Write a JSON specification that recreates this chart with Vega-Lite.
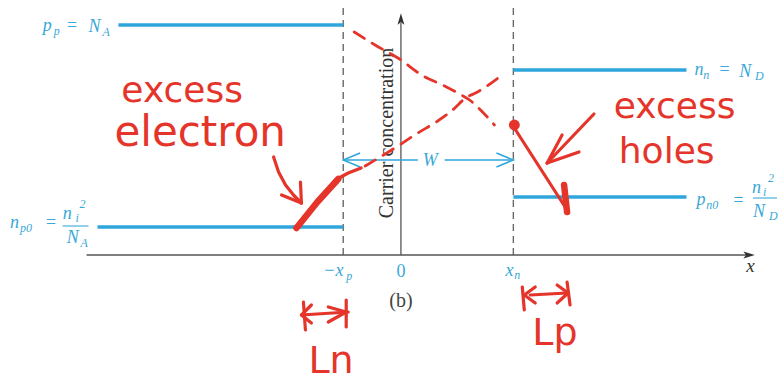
{
  "$schema": "https://vega.github.io/schema/vega-lite/v6.json",
  "width": 778,
  "height": 385,
  "padding": 0,
  "autosize": {"type": "fit", "contains": "padding"},
  "config": {"view": {"stroke": null}},
  "datasets": {
    "axisLines": [
      {"x": -316, "y": 0, "x2": 347, "y2": 0},
      {"x": 0, "y": 0, "x2": 0, "y2": 232}
    ],
    "axisEnds": [
      {"axis": "x", "x": 350, "y": 0},
      {"axis": "y", "x": 0, "y": 236}
    ],
    "boundaries": [
      {"x": -58, "y": 0, "x2": -58, "y2": 250},
      {"x": 113, "y": 0, "x2": 113, "y2": 250}
    ],
    "levels": [
      {"carrier": "p_p", "x": -284, "y": 230, "x2": -58, "y2": 230},
      {"carrier": "n_p0", "x": -305, "y": 28, "x2": -58, "y2": 28},
      {"carrier": "n_n", "x": 113, "y": 185, "x2": 287, "y2": 185},
      {"carrier": "p_n0", "x": 113, "y": 58, "x2": 287, "y2": 58}
    ],
    "widthLine": [
      {"x": -58, "y": 95, "x2": 17, "y2": 95},
      {"x": 44, "y": 95, "x2": 113, "y2": 95}
    ],
    "fractionBars": [
      {"x": -340, "y": 29, "x2": -314, "y2": 29},
      {"x": 354, "y": 57, "x2": 378, "y2": 57}
    ],
    "chevrons": [
      {"id": "left", "i": 0, "x": -41, "y": 102},
      {"id": "left", "i": 1, "x": -58, "y": 95},
      {"id": "left", "i": 2, "x": -41, "y": 88},
      {"id": "right", "i": 0, "x": 96, "y": 102},
      {"id": "right", "i": 1, "x": 113, "y": 95},
      {"id": "right", "i": 2, "x": 96, "y": 88}
    ],
    "labelMain": [
      {"t": "p", "x": -360, "y": 224},
      {"t": "=", "x": -337, "y": 224},
      {"t": "N", "x": -314, "y": 223},
      {"t": "n", "x": -393, "y": 27},
      {"t": "=", "x": -358, "y": 27},
      {"t": "n", "x": -340, "y": 36},
      {"t": "N", "x": -336, "y": 12},
      {"t": "n", "x": 295, "y": 180},
      {"t": "=", "x": 319, "y": 180},
      {"t": "N", "x": 340, "y": 178},
      {"t": "p", "x": 297, "y": 50},
      {"t": "=", "x": 333, "y": 49},
      {"t": "n", "x": 353, "y": 62},
      {"t": "N", "x": 354, "y": 38},
      {"t": "−x", "x": -78, "y": -21},
      {"t": "x", "x": 105, "y": -21},
      {"t": "W", "x": 22, "y": 89}
    ],
    "labelSub": [
      {"t": "p", "x": -349, "y": 220},
      {"t": "A", "x": -300, "y": 219},
      {"t": "p0", "x": -383, "y": 23},
      {"t": "i", "x": -327, "y": 33},
      {"t": "2", "x": -323, "y": 47},
      {"t": "A", "x": -322, "y": 8},
      {"t": "n", "x": 304, "y": 176},
      {"t": "D", "x": 356, "y": 175},
      {"t": "n0", "x": 307, "y": 46},
      {"t": "i", "x": 364, "y": 59},
      {"t": "2", "x": 369, "y": 73},
      {"t": "D", "x": 370, "y": 35},
      {"t": "p", "x": -55, "y": -25},
      {"t": "n", "x": 114, "y": -24}
    ],
    "origin": [{"t": "0", "x": 0, "y": -22}],
    "caption": [{"t": "(b)", "x": 0, "y": -52}],
    "xName": [{"t": "x", "x": 347, "y": -17}],
    "yName": [{"t": "Carrier concentration", "x": -14, "y": 122}],
    "noteStrokes": [
      {"id": "arrowL", "i": 0, "x": -128, "y": 98},
      {"id": "arrowL", "i": 1, "x": -123, "y": 83},
      {"id": "arrowL", "i": 2, "x": -116, "y": 70},
      {"id": "arrowL", "i": 3, "x": -108, "y": 60},
      {"id": "arrowL", "i": 4, "x": -100, "y": 52},
      {"id": "arrowLb1", "i": 0, "x": -120, "y": 60},
      {"id": "arrowLb1", "i": 1, "x": -100, "y": 52},
      {"id": "arrowLb2", "i": 0, "x": -101, "y": 73},
      {"id": "arrowLb2", "i": 1, "x": -100, "y": 52},
      {"id": "elecLead", "i": 0, "x": -66, "y": 75},
      {"id": "elecLead", "i": 1, "x": -53, "y": 82},
      {"id": "elecLead", "i": 2, "x": -40, "y": 87},
      {"id": "holeLine", "i": 0, "x": 114, "y": 127},
      {"id": "holeLine", "i": 1, "x": 167, "y": 45},
      {"id": "arrowR", "i": 0, "x": 194, "y": 141},
      {"id": "arrowR", "i": 1, "x": 147, "y": 92},
      {"id": "arrowRb1", "i": 0, "x": 162, "y": 120},
      {"id": "arrowRb1", "i": 1, "x": 147, "y": 92},
      {"id": "arrowRb2", "i": 0, "x": 179, "y": 103},
      {"id": "arrowRb2", "i": 1, "x": 147, "y": 92},
      {"id": "LnShaft", "i": 0, "x": -100, "y": -60},
      {"id": "LnShaft", "i": 1, "x": -53, "y": -57},
      {"id": "LnBarL", "i": 0, "x": -98, "y": -47},
      {"id": "LnBarL", "i": 1, "x": -96, "y": -75},
      {"id": "LnHeadL", "i": 0, "x": -90, "y": -50},
      {"id": "LnHeadL", "i": 1, "x": -100, "y": -60},
      {"id": "LnHeadL", "i": 2, "x": -90, "y": -68},
      {"id": "LnBarR", "i": 0, "x": -55, "y": -45},
      {"id": "LnBarR", "i": 1, "x": -55, "y": -72},
      {"id": "LnHeadR", "i": 0, "x": -73, "y": -52},
      {"id": "LnHeadR", "i": 1, "x": -55, "y": -57},
      {"id": "LnHeadR", "i": 2, "x": -73, "y": -67},
      {"id": "LpShaft", "i": 0, "x": 130, "y": -40},
      {"id": "LpShaft", "i": 1, "x": 167, "y": -38},
      {"id": "LpBarL", "i": 0, "x": 122, "y": -32},
      {"id": "LpBarL", "i": 1, "x": 124, "y": -55},
      {"id": "LpHeadL", "i": 0, "x": 135, "y": -32},
      {"id": "LpHeadL", "i": 1, "x": 124, "y": -40},
      {"id": "LpHeadL", "i": 2, "x": 135, "y": -48},
      {"id": "LpBarR", "i": 0, "x": 167, "y": -27},
      {"id": "LpBarR", "i": 1, "x": 170, "y": -50},
      {"id": "LpHeadR", "i": 0, "x": 157, "y": -30},
      {"id": "LpHeadR", "i": 1, "x": 168, "y": -38},
      {"id": "LpHeadR", "i": 2, "x": 157, "y": -48}
    ],
    "noteThick": [
      {"id": "elecThick", "i": 0, "x": -105, "y": 27},
      {"id": "elecThick", "i": 1, "x": -84, "y": 53},
      {"id": "elecThick", "i": 2, "x": -63, "y": 76},
      {"id": "holeTick", "i": 0, "x": 164, "y": 70},
      {"id": "holeTick", "i": 1, "x": 167, "y": 43}
    ],
    "excessCurves": [
      {"carrier": "electrons", "x": -36, "y": 89},
      {"carrier": "electrons", "x": -3, "y": 109},
      {"carrier": "electrons", "x": 17, "y": 122},
      {"carrier": "electrons", "x": 37, "y": 134},
      {"carrier": "electrons", "x": 52, "y": 145},
      {"carrier": "electrons", "x": 65, "y": 157},
      {"carrier": "electrons", "x": 77, "y": 163},
      {"carrier": "electrons", "x": 99, "y": 178},
      {"carrier": "holes", "x": -47, "y": 223},
      {"carrier": "holes", "x": -26, "y": 210},
      {"carrier": "holes", "x": -3, "y": 197},
      {"carrier": "holes", "x": 24, "y": 178},
      {"carrier": "holes", "x": 42, "y": 170},
      {"carrier": "holes", "x": 57, "y": 162},
      {"carrier": "holes", "x": 69, "y": 155},
      {"carrier": "holes", "x": 82, "y": 143},
      {"carrier": "holes", "x": 94, "y": 130}
    ],
    "edgeDot": [{"x": 114, "y": 130}],
    "noteWords": [
      {"t": "excess", "x": -281, "y": 153},
      {"t": "excess", "x": 214, "y": 137},
      {"t": "holes", "x": 219, "y": 92}
    ],
    "noteWide": [
      {"t": "electron", "x": -288, "y": 109}
    ],
    "noteLengths": [
      {"t": "Ln", "x": -93, "y": -118},
      {"t": "Lp", "x": 132, "y": -90}
    ]
  },
  "encoding": {
    "x": {"field": "x", "type": "quantitative", "axis": null,
          "scale": {"domain": [-403, 375], "nice": false, "zero": false}},
    "y": {"field": "y", "type": "quantitative", "axis": null,
          "scale": {"domain": [-130, 255], "nice": false, "zero": false}}
  },
  "layer": [
    {
      "data": {"name": "boundaries"},
      "mark": {"type": "rule", "color": "#6a6a6a", "strokeWidth": 1.4, "strokeDash": [7, 5]},
      "encoding": {"x2": {"field": "x2"}, "y2": {"field": "y2"}}
    },
    {
      "data": {"name": "axisLines"},
      "mark": {"type": "rule", "color": "#555555", "strokeWidth": 1.3},
      "encoding": {"x2": {"field": "x2"}, "y2": {"field": "y2"}}
    },
    {
      "data": {"name": "axisEnds"},
      "mark": {"type": "point", "filled": true, "color": "#333333", "size": 130, "opacity": 1},
      "encoding": {
        "shape": {"field": "axis", "type": "nominal", "legend": null,
                  "scale": {"domain": ["x", "y"],
                            "range": ["M 1 0 L -1 -0.6 L -0.55 0 L -1 0.6 Z", "M 0 -1 L -0.6 1 L 0 0.55 L 0.6 1 Z"]}}
      }
    },
    {
      "data": {"name": "levels"},
      "mark": {"type": "rule", "color": "#2ea6dc", "strokeWidth": 3.5},
      "encoding": {"x2": {"field": "x2"}, "y2": {"field": "y2"}}
    },
    {
      "data": {"name": "widthLine"},
      "mark": {"type": "rule", "color": "#2ea6dc", "strokeWidth": 1.5},
      "encoding": {"x2": {"field": "x2"}, "y2": {"field": "y2"}}
    },
    {
      "data": {"name": "fractionBars"},
      "mark": {"type": "rule", "color": "#3aa8d6", "strokeWidth": 1.1},
      "encoding": {"x2": {"field": "x2"}, "y2": {"field": "y2"}}
    },
    {
      "data": {"name": "chevrons"},
      "mark": {"type": "line", "color": "#2ea6dc", "strokeWidth": 1.5},
      "encoding": {"detail": {"field": "id"}, "order": {"field": "i"}}
    },
    {
      "data": {"name": "labelMain"},
      "mark": {"type": "text", "align": "left", "baseline": "alphabetic", "font": "Liberation Serif",
               "fontStyle": "italic", "fontSize": 18, "color": "#3aa8d6"},
      "encoding": {"text": {"field": "t"}}
    },
    {
      "data": {"name": "labelSub"},
      "mark": {"type": "text", "align": "left", "baseline": "alphabetic", "font": "Liberation Serif",
               "fontStyle": "italic", "fontSize": 12, "color": "#3aa8d6"},
      "encoding": {"text": {"field": "t"}}
    },
    {
      "data": {"name": "origin"},
      "mark": {"type": "text", "align": "center", "baseline": "alphabetic", "font": "Liberation Serif",
               "fontSize": 18, "color": "#3aa8d6"},
      "encoding": {"text": {"field": "t"}}
    },
    {
      "data": {"name": "caption"},
      "mark": {"type": "text", "align": "center", "baseline": "alphabetic", "font": "Liberation Serif",
               "fontSize": 20, "color": "#444444"},
      "encoding": {"text": {"field": "t"}}
    },
    {
      "data": {"name": "xName"},
      "mark": {"type": "text", "align": "left", "baseline": "alphabetic", "font": "Liberation Serif",
               "fontStyle": "italic", "fontSize": 19, "color": "#333333"},
      "encoding": {"text": {"field": "t"}}
    },
    {
      "data": {"name": "yName"},
      "mark": {"type": "text", "align": "center", "baseline": "middle", "angle": 270,
               "font": "Liberation Serif", "fontSize": 20, "color": "#333333"},
      "encoding": {"text": {"field": "t"}}
    },
    {
      "data": {"name": "excessCurves"},
      "mark": {"type": "line", "color": "#e5352b", "strokeWidth": 2.8, "strokeDash": [12, 9],
               "interpolate": "monotone", "strokeCap": "round"},
      "encoding": {"detail": {"field": "carrier"}}
    },
    {
      "data": {"name": "noteStrokes"},
      "mark": {"type": "line", "color": "#e5352b", "strokeWidth": 3.2, "strokeCap": "round", "strokeJoin": "round"},
      "encoding": {"detail": {"field": "id"}, "order": {"field": "i"}}
    },
    {
      "data": {"name": "noteThick"},
      "mark": {"type": "line", "color": "#e5352b", "strokeWidth": 6.5, "strokeCap": "round", "strokeJoin": "round"},
      "encoding": {"detail": {"field": "id"}, "order": {"field": "i"}}
    },
    {
      "data": {"name": "edgeDot"},
      "mark": {"type": "point", "filled": true, "color": "#e5352b", "size": 120, "opacity": 1}
    },
    {
      "data": {"name": "noteWords"},
      "mark": {"type": "text", "align": "left", "baseline": "alphabetic", "font": "DejaVu Sans",
               "fontSize": 36, "color": "#e5352b"},
      "encoding": {"text": {"field": "t"}}
    },
    {
      "data": {"name": "noteWide"},
      "mark": {"type": "text", "align": "left", "baseline": "alphabetic", "font": "DejaVu Sans",
               "fontSize": 42, "color": "#e5352b"},
      "encoding": {"text": {"field": "t"}}
    },
    {
      "data": {"name": "noteLengths"},
      "mark": {"type": "text", "align": "left", "baseline": "alphabetic", "font": "DejaVu Sans",
               "fontSize": 38, "color": "#e5352b"},
      "encoding": {"text": {"field": "t"}}
    }
  ]
}
